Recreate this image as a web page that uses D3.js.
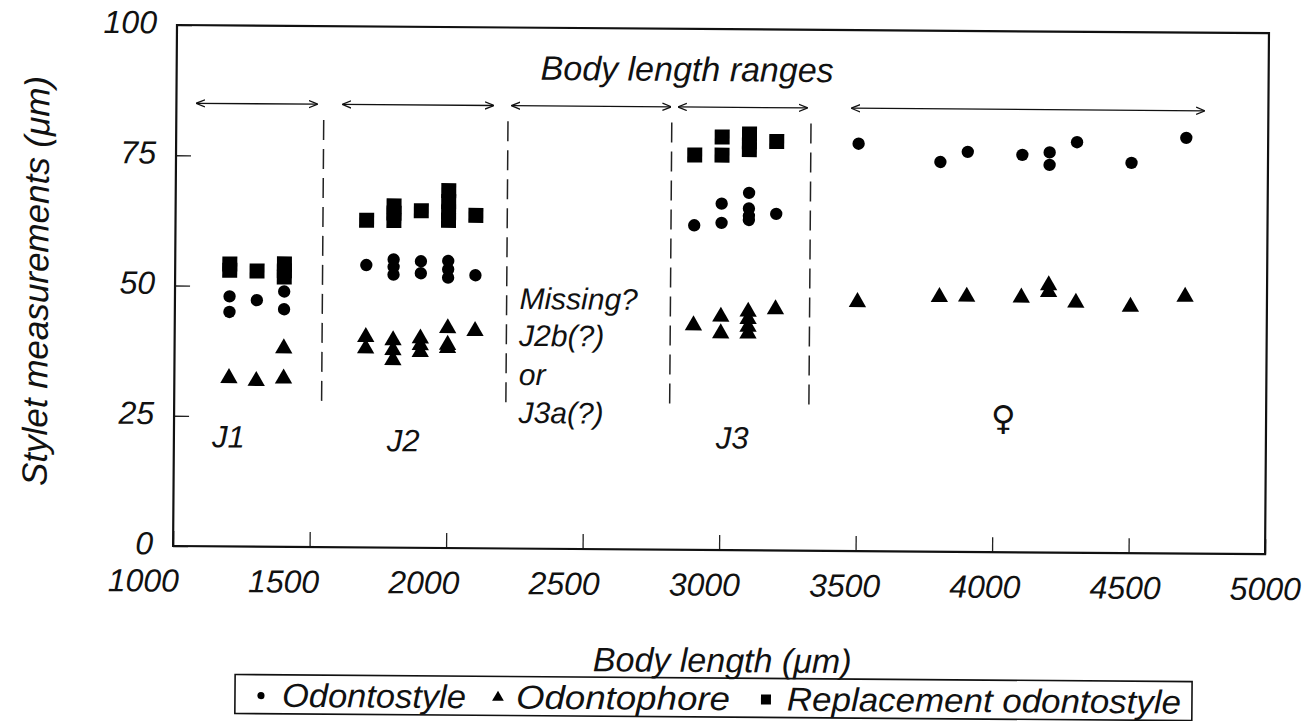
<!DOCTYPE html>
<html>
<head>
<meta charset="utf-8">
<script src="https://cdn.jsdelivr.net/npm/d3@7"></script>
<style>
  body { margin: 0; background: #fff; }
  text { font-family: "Liberation Sans", Arial, sans-serif; font-style: italic; fill: #111; }
</style>
</head>
<body>
<script>
// stylet measurements: [body length, value]
var odontostyle = [
  [1200,48],[1200,45],[1300,47.3],[1400,49],[1400,45.6],
  [1700,54.2],[1800,55.3],[1800,53.9],[1800,52.4],[1900,55],[1900,52.7],
  [2000,55.1],[2000,53.5],[2000,51.9],[2100,52.4],
  [2900,62.3],[3000,66.5],[3000,62.8],[3100,68.6],[3100,65.6],[3100,64.2],[3100,63.4],[3200,64.6],
  [3500,78.2],[3800,74.8],[3900,76.8],[4100,76.3],[4200,76.8],[4200,74.4],[4300,78.8],[4500,74.9],[4700,79.8]
];
var odontophore = [
  [1200,32.3],[1300,31.8],[1400,38.1],[1400,32.3],
  [1700,40.4],[1700,38.2],[1800,39.8],[1800,37.9],[1800,36],[1900,40.2],[1900,38.9],[1900,37.6],
  [2000,42.2],[2000,39],[2000,38.4],[2100,41.7],
  [2900,43.1],[3000,44.8],[3000,41.6],[3100,45.8],[3100,44.4],[3100,42.9],[3100,41.6],[3200,46.3],
  [3500,47.8],[3800,48.9],[3900,49],[4100,48.9],[4200,51.3],[4200,50],[4300,48],[4500,47.3],[4700,49.3]
];
var replacement = [
  [1200,54.2],[1200,53],[1300,52.9],[1400,54.3],[1400,53],[1400,51.8],
  [1700,62.8],[1800,65.6],[1800,64.2],[1800,62.8],[1900,64.7],
  [2000,68.6],[2000,66.5],[2000,64.5],[2000,62.9],[2100,63.9],
  [2900,75.8],[3000,79.3],[3000,75.8],[3100,79.9],[3100,78.4],[3100,76.9],[3200,78.5]
];

var xTicks = [1000,1500,2000,2500,3000,3500,4000,4500,5000];
var yTicks = [0,25,50,75,100];

// body length ranges (arrows) and stage dividers
var rangeArrows = [[1075,1515],[1610,2160],[2230,2810],[2840,3310],[3475,4765]];
var rangeLevel = 85;
var dividers = [1540,2215,2815,3325];
var dividerSpan = [28,82];

var stageLabels = [
  {text:"J1", x:1200, y:19},
  {text:"J2", x:1840, y:18.5},
  {text:"J3", x:3045, y:19.5}
];
var missingLines = ["Missing?","J2b(?)","or","J3a(?)"];
var missingY = [46,38.9,31.4,24.1];

var margin = {left:177, top:25},
    width = 1092,
    height = 521;

var svg = d3.select("body").append("svg")
    .attr("width", 1307)
    .attr("height", 721);

// the scanned figure is slightly tilted
var root = svg.append("g")
    .attr("transform", "rotate(0.43," + margin.left + "," + margin.top + ")");

var g = root.append("g")
    .attr("transform", "translate(" + margin.left + "," + margin.top + ")");

var x = d3.scaleLinear().domain([1000,5000]).range([0,width]);
var y = d3.scaleLinear().domain([0,100]).range([height,0]);

var xAxis = d3.axisBottom(x).tickValues(xTicks).tickFormat(d3.format("d"))
    .tickSize(-15).tickSizeOuter(0).tickPadding(23);
var yAxis = d3.axisLeft(y).tickValues(yTicks).tickFormat(d3.format("d"))
    .tickSize(-15).tickSizeOuter(0).tickPadding(20);

var gx = g.append("g")
    .attr("transform", "translate(0," + height + ")")
    .call(xAxis);
gx.selectAll("text")
    .attr("dx", function(d) { return -(5000 - d) / 4000 * 30; });

var gy = g.append("g").call(yAxis);
gy.selectAll("text").attr("dy", "0.25em");

[gx, gy].forEach(function(a) {
  a.select(".domain").remove();
  a.selectAll("line").attr("stroke", "#222").attr("stroke-width", 1.3);
  a.selectAll("text")
    .style("font-family", "Liberation Sans, Arial, sans-serif")
    .style("font-style", "italic")
    .style("font-size", "32px")
    .attr("fill", "#111");
});

// frame
g.append("rect")
    .attr("width", width)
    .attr("height", height)
    .attr("fill", "none")
    .attr("stroke", "#111")
    .attr("stroke-width", 2.2);

// arrowheads
var defs = svg.append("defs");
defs.append("marker")
    .attr("id", "head")
    .attr("viewBox", "0 0 10 10")
    .attr("refX", 9).attr("refY", 5)
    .attr("markerWidth", 9).attr("markerHeight", 9)
    .attr("markerUnits", "userSpaceOnUse")
    .attr("orient", "auto-start-reverse")
    .append("path")
    .attr("d", "M0,1 L10,5 L0,9")
    .attr("fill", "none")
    .attr("stroke", "#111")
    .attr("stroke-width", 1.4);

g.selectAll(".range")
    .data(rangeArrows)
  .enter().append("line")
    .attr("x1", function(d) { return x(d[0]); })
    .attr("x2", function(d) { return x(d[1]); })
    .attr("y1", y(rangeLevel))
    .attr("y2", y(rangeLevel))
    .attr("stroke", "#111")
    .attr("stroke-width", 1.3)
    .attr("marker-start", "url(#head)")
    .attr("marker-end", "url(#head)");

g.selectAll(".divider")
    .data(dividers)
  .enter().append("line")
    .attr("x1", function(d) { return x(d); })
    .attr("x2", function(d) { return x(d); })
    .attr("y1", y(dividerSpan[1]))
    .attr("y2", y(dividerSpan[0]))
    .attr("stroke", "#222")
    .attr("stroke-width", 1.5)
    .attr("stroke-dasharray", "20,9");

// text annotations
g.append("text")
    .attr("x", x(2870))
    .attr("y", y(90))
    .attr("text-anchor", "middle")
    .style("font-size", "34px")
    .text("Body length ranges");

g.selectAll(".stage")
    .data(stageLabels)
  .enter().append("text")
    .attr("x", function(d) { return x(d.x); })
    .attr("y", function(d) { return y(d.y); })
    .attr("text-anchor", "middle")
    .style("font-size", "31px")
    .text(function(d) { return d.text; });

g.selectAll(".missing")
    .data(missingLines)
  .enter().append("text")
    .attr("x", x(2262))
    .attr("y", function(d, i) { return y(missingY[i]); })
    .style("font-size", "30px")
    .text(function(d) { return d; });

g.append("text")
    .attr("x", x(4037))
    .attr("y", y(23.5))
    .attr("text-anchor", "middle")
    .style("font-size", "34px")
    .style("font-style", "normal")
    .style("font-weight", "bold")
    .style("font-family", "DejaVu Sans, sans-serif")
    .text("\u2640");

// points
var symCircle = d3.symbol().type(d3.symbolCircle).size(120);
var symTriangle = d3.symbol().type(d3.symbolTriangle).size(130);
var symSquare = d3.symbol().type(d3.symbolSquare).size(225);

function drawSeries(data, sym) {
  g.append("g").selectAll("path")
      .data(data)
    .enter().append("path")
      .attr("d", sym)
      .attr("fill", "#000")
      .attr("transform", function(d) { return "translate(" + x(d[0]) + "," + y(d[1]) + ")"; });
}
drawSeries(replacement, symSquare);
drawSeries(odontostyle, symCircle);
drawSeries(odontophore, symTriangle);

// axis titles
root.append("text")
    .attr("transform", "translate(50,282) rotate(-90)")
    .attr("text-anchor", "middle")
    .style("font-size", "35px")
    .text("Stylet measurements (\u03bcm)");

root.append("text")
    .attr("x", 727)
    .attr("y", 668)
    .attr("text-anchor", "middle")
    .style("font-size", "34px")
    .text("Body length (\u03bcm)");

// legend
var legendItems = [
  {label:"Odontostyle", sym:d3.symbol().type(d3.symbolCircle).size(40), x:266, tx:287, w:184},
  {label:"Odontophore", sym:d3.symbol().type(d3.symbolTriangle).size(60), x:503, tx:521, w:214},
  {label:"Replacement odontostyle", sym:d3.symbol().type(d3.symbolSquare).size(100), x:771, tx:792, w:394}
];
var legend = root.append("g");
legend.append("rect")
    .attr("x", 240).attr("y", 674)
    .attr("width", 957).attr("height", 39)
    .attr("fill", "none")
    .attr("stroke", "#111")
    .attr("stroke-width", 1.6);
legendItems.forEach(function(d) {
  legend.append("path")
      .attr("d", d.sym)
      .attr("transform", "translate(" + d.x + ",695)")
      .attr("fill", "#000");
  legend.append("text")
      .attr("x", d.tx)
      .attr("y", 706)
      .attr("textLength", d.w)
      .attr("lengthAdjust", "spacingAndGlyphs")
      .style("font-size", "33px")
      .text(d.label);
});
</script>
</body>
</html>
